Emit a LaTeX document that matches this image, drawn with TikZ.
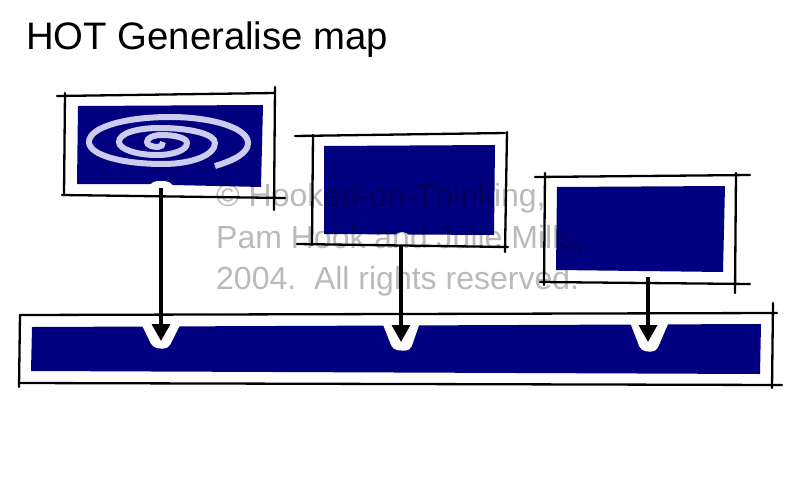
\documentclass[tikz,border=0pt]{standalone}
\usepackage{fontspec}
\setmainfont{Liberation Sans}
\usetikzlibrary{arrows.meta}
\definecolor{panelblue}{RGB}{0,0,128}
\definecolor{spiralblue}{RGB}{204,204,238}
\tikzset{
  sketch/.style={line width=2.3pt,line cap=round,black},
  panel/.style={fill=panelblue},
  notch/.style={fill=white,rounded corners=5pt},
  linkarrow/.style={line width=3.4pt,-{Triangle[length=17pt,width=18pt]}},
  mark text/.style={anchor=base west,inner sep=0pt,font=\fontsize{32}{32}\selectfont,text=black,text opacity=.27}
}
\begin{document}
\begin{tikzpicture}[x=1pt,y=-1pt]
\useasboundingbox (0,0) rectangle (800,479);
\node[anchor=base west,inner sep=0pt,font=\fontsize{38.3}{38.3}\selectfont] (title) at (26,49) {HOT Generalise map};

% Three maps along the top
\begin{scope}
\fill[panel] (78,106)--(263,105)--(261,187)--(173,185)--(150,184)--(77,184)--cycle;
\fill[notch] (148,189)--(152,181)--(170,181)--(175,189)--cycle;
\draw[spiralblue,line width=6pt] (215,166) .. controls (235,160) and (248,153) .. (248,143) .. controls (248,128) and (212,117) .. (170,117) .. controls (126,117) and (89,127) .. (89,142) .. controls (89,155) and (122,164) .. (163,164) .. controls (192,164) and (215,155) .. (215,143) .. controls (215,134) and (190,128) .. (160,128) .. controls (137,128) and (119,133) .. (119,142) .. controls (119,149) and (136,155) .. (157,155) .. controls (174,155) and (187,150) .. (187,143) .. controls (187,138) and (175,135) .. (162,135) .. controls (153,135) and (147,138) .. (147,142) .. controls (147,145) and (152,147) .. (158,147) .. controls (161,147) and (163,145) .. (163,142);
\draw[sketch] (57,96)--(275,93);
\draw[sketch] (65,93)--(64,195);
\draw[sketch] (275,87)--(274,210);
\draw[sketch] (62,195)--(285,198);
\end{scope}

\begin{scope}
\fill[panel] (324,146)--(495,145)--(494,235)--(324,234)--cycle;
\fill[notch] (394,240)--(396,232)--(408,232)--(410,240)--cycle;
\draw[sketch] (295,136)--(505,133);
\draw[sketch] (313,135)--(312,245);
\draw[sketch] (507,132)--(505,252);
\draw[sketch] (297,244)--(508,247);
\end{scope}

\begin{scope}
\fill[panel] (557,187)--(725,186)--(723,272)--(556,270)--cycle;
\draw[sketch] (535,177)--(750,175);
\draw[sketch] (545,173)--(544,285);
\draw[sketch] (736,173)--(735,293);
\draw[sketch] (540,282)--(750,284);
\end{scope}

% Long bar
\fill[panel] (32,327)--(761,324)--(760,374)--(31,371)--cycle;
\fill[notch] (138,317)--(153,348)--(168,349)--(184,317)--cycle;
\fill[notch] (380,317)--(393,350)--(410,351)--(422,317)--cycle;
\fill[notch] (628,317)--(641,351)--(656,352)--(671,317)--cycle;
\draw[sketch] (20,315)--(777,313);
\draw[sketch] (20,315)--(19,387);
\draw[sketch] (773,303)--(772,388);
\draw[sketch] (19,383)--(782,385);

% Links
\coordinate (mapout1) at (161,188);
\coordinate (mapout2) at (401,245);
\coordinate (mapout3) at (648,277);
\coordinate (barin1) at (161,341);
\coordinate (barin2) at (401,342);
\coordinate (barin3) at (648,342);
\draw[linkarrow] (mapout1)--(barin1);
\draw[linkarrow] (mapout2)--(barin2);
\draw[linkarrow] (mapout3)--(barin3);

\node[mark text] (mark1) at (216,206) {© Hooked-on-Thinking,};
\node[mark text] (mark2) at (216,248) {Pam Hook and Julie Mills,};
\node[mark text] (mark3) at (216,289) {2004.\ \ All rights reserved.};
\end{tikzpicture}
\end{document}
